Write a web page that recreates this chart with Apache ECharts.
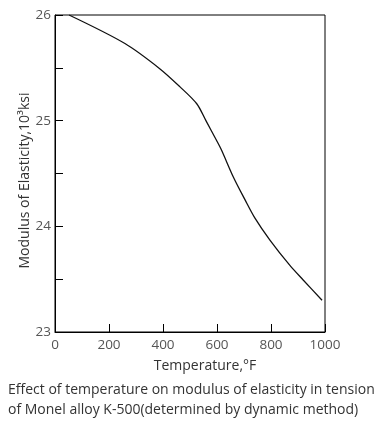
<!DOCTYPE html>
<html><head><meta charset="utf-8">
<script src="https://cdn.jsdelivr.net/npm/echarts@6/dist/echarts.min.js"></script>
<style>html,body{margin:0;padding:0;background:#fff}#c{width:381px;height:427px}</style>
</head><body><div id="c"></div>
<script>
var temps = [52, 259, 389, 463, 525, 559, 599, 617, 660, 704, 740, 796, 870, 920, 989];
var modulus = [26.0, 25.73, 25.49, 25.32, 25.16, 25.0, 24.81, 24.72, 24.47, 24.25, 24.08, 23.87, 23.63, 23.49, 23.30];
var xTicks = [0, 200, 400, 600, 800, 1000];
var yTicks = [23, 24, 25, 26];
var caption = ['Effect of temperature on modulus of elasticity in tension', 'of Monel alloy K-500(determined by dynamic method)'];

var font = '"Open Sans", "DejaVu Sans", sans-serif';
var chart = echarts.init(document.getElementById('c'));
chart.setOption({
  animation: false,
  title: {
    text: caption.join('\n'), left: 8, top: 380, padding: 0,
    textStyle: { fontFamily: font, fontSize: 14, fontWeight: 'normal', color: '#333', lineHeight: 20 }
  },
  grid: { left: 55, right: 56, top: 15, bottom: 95, show: true, borderColor: '#000', borderWidth: 1 },
  xAxis: {
    type: 'value', min: 0, max: 1000, interval: 200,
    name: 'Temperature,°F', nameLocation: 'middle', nameGap: 27,
    nameTextStyle: { fontFamily: font, fontSize: 14, color: '#333', padding: [0, 0, 0, 30] },
    axisLine: { lineStyle: { color: '#000', width: 1 } },
    axisTick: { inside: true, length: 8, lineStyle: { color: '#000' } },
    axisLabel: { fontFamily: font, fontSize: 13.5, color: '#555', margin: 6,
      formatter: function (v) { return xTicks.indexOf(v) >= 0 ? String(v) : ''; } },
    splitLine: { show: false }
  },
  yAxis: {
    type: 'value', min: 23, max: 26, interval: 0.5,
    name: 'Modulus of Elasticity,10³ksi', nameLocation: 'middle', nameGap: 23,
    nameMoveOverlap: false,
    nameTextStyle: { fontFamily: font, fontSize: 14, color: '#333', padding: [0, 14, 0, 0] },
    axisLine: { lineStyle: { color: '#000', width: 1 } },
    axisTick: { inside: true, length: 8, lineStyle: { color: '#000' } },
    axisLabel: { fontFamily: font, fontSize: 13.5, color: '#555', margin: 4,
      formatter: function (v) { return yTicks.indexOf(v) >= 0 ? String(v) : ''; } },
    splitLine: { show: false }
  },
  series: [{
    type: 'line', data: temps.map(function (t, i) { return [t, modulus[i]]; }),
    smooth: 0.3, symbol: 'none',
    lineStyle: { color: '#111', width: 1.3 }
  }]
});
</script></body></html>
